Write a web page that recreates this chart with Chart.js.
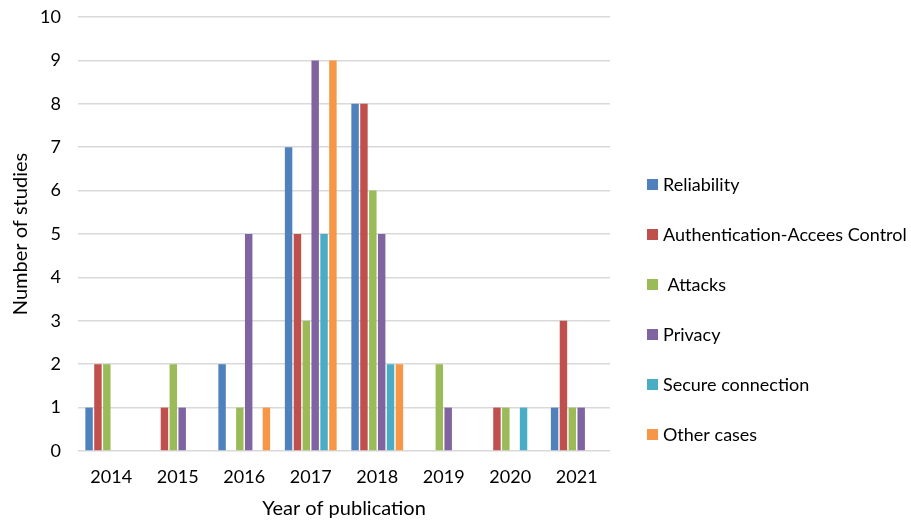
<!DOCTYPE html>
<html>
<head>
<meta charset="utf-8">
<script src="https://cdn.jsdelivr.net/npm/chart.js@4.4.1/dist/chart.umd.min.js"></script>
<style>
    html, body { margin: 0; padding: 0; background: #fff; }
    #wrap { width: 911px; height: 521px; position: relative; }
</style>
</head>
<body>
<div id="wrap"><canvas id="chart_years"></canvas></div>
<script>
const YEARS = ['2014', '2015', '2016', '2017', '2018', '2019', '2020', '2021'];
const SERIES = ['Reliability', 'Authentication-Accees Control', ' Attacks', 'Privacy', 'Secure connection', 'Other cases'];
const COLORS = ['#4F81BD', '#C0504D', '#9BBB59', '#8064A2', '#4BACC6', '#F79646'];

const RELIABILITY = [1, 0, 2, 7, 8, 0, 0, 1];
const AUTH_ACCESS = [2, 1, 0, 5, 8, 0, 1, 3];
const ATTACKS = [2, 2, 1, 3, 6, 2, 1, 1];
const PRIVACY = [0, 1, 5, 9, 5, 1, 0, 1];
const SECURE_CONN = [0, 0, 0, 5, 2, 0, 1, 0];
const OTHER_CASES = [0, 0, 1, 9, 2, 0, 0, 0];

const Y_TICKS = [0, 1, 2, 3, 4, 5, 6, 7, 8, 9, 10];

const FONT = 'Lato, "Open Sans", sans-serif';
const allValues = [RELIABILITY, AUTH_ACCESS, ATTACKS, PRIVACY, SECURE_CONN, OTHER_CASES];

// legend drawn on the right, Excel style with wide spacing
var sideLegend = {
    id: 'sideLegend',
    afterDraw(chart) {
        var ctx = chart.ctx;
        ctx.save();
        ctx.font = '18px ' + FONT;
        ctx.textBaseline = 'middle';
        ctx.textAlign = 'left';
        chart.data.datasets.forEach(function (ds, i) {
            var cy = 184.5 + i * 50;
            ctx.fillStyle = ds.backgroundColor;
            ctx.fillRect(647, cy - 5.5, 11, 11);
            ctx.fillStyle = '#000';
            ctx.fillText(ds.label, 663, cy + 1);
        });
        ctx.restore();
    }
};

var ctx = document.getElementById('chart_years');
var yearChart = new Chart(ctx, {
    type: 'bar',
    data: {
        labels: YEARS,
        datasets: SERIES.map(function (name, i) {
            return {
                label: name,
                data: allValues[i],
                backgroundColor: COLORS[i],
                categoryPercentage: 0.8,
                barPercentage: 0.84
            };
        })
    },
    options: {
        responsive: true,
        maintainAspectRatio: false,
        animation: false,
        layout: { padding: { top: 17, right: 301, left: 9, bottom: 0 } },
        plugins: {
            legend: { display: false },
            tooltip: { enabled: false }
        },
        scales: {
            x: {
                grid: { display: false, drawTicks: false },
                border: { display: false },
                ticks: { color: '#000', font: { family: FONT, size: 18 }, padding: 15 },
                title: {
                    display: true,
                    text: 'Year of publication',
                    color: '#000',
                    font: { family: FONT, size: 20 },
                    padding: { top: 6, bottom: 0 }
                },
                afterFit(scale) { scale.height = 70; }
            },
            y: {
                min: 0,
                max: 10,
                afterBuildTicks(scale) { scale.ticks = Y_TICKS.map(function (v) { return { value: v }; }); },
                grid: { color: '#d9d9d9', lineWidth: 1.5, drawTicks: false },
                border: { display: false },
                ticks: { color: '#000', font: { family: FONT, size: 18 }, padding: 17 },
                title: {
                    display: true,
                    text: 'Number of studies',
                    color: '#000',
                    font: { family: FONT, size: 20 },
                    padding: { top: 0, bottom: 0 }
                },
                afterFit(scale) {
                    scale.width = 69;
                    scale.paddingTop = 0;
                    scale.paddingBottom = 0;
                }
            }
        }
    },
    plugins: [sideLegend]
});
</script>
</body>
</html>
